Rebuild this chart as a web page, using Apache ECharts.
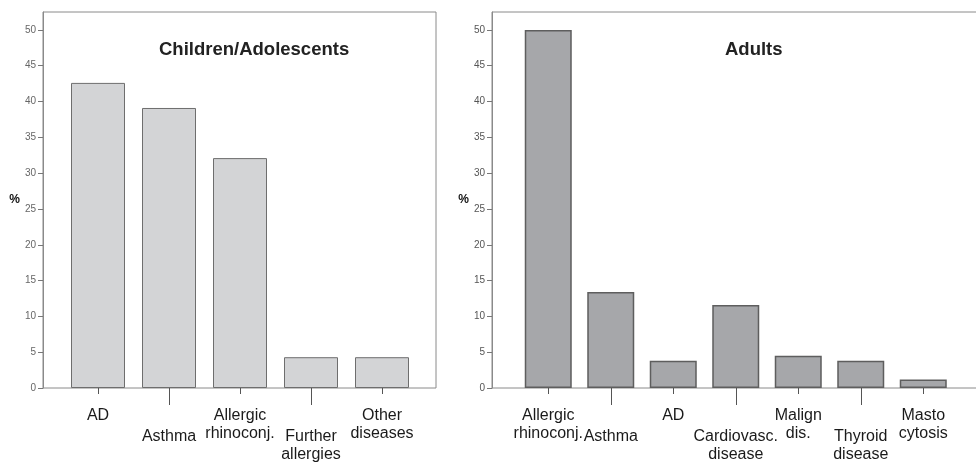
<!DOCTYPE html>
<html>
<head>
<meta charset="utf-8">
<script src="https://cdn.jsdelivr.net/npm/echarts@6/dist/echarts.min.js"></script>
<style>
  html, body { margin: 0; padding: 0; background: #fff; }
  #main { width: 976px; height: 462px; }
</style>
</head>
<body>
<div id="main"></div>
<script>
// data
const childCats = ['AD', 'Asthma', 'Allergic\nrhinoconj.', 'Further\nallergies', 'Other\ndiseases'];
const childVals = [42.6, 39.1, 32.1, 4.3, 4.3];
const adultCats = ['Allergic\nrhinoconj.', 'Asthma', 'AD', 'Cardiovasc.\ndisease', 'Malign\ndis.', 'Thyroid\ndisease', 'Masto\ncytosis'];
const adultVals = [50.0, 13.4, 3.8, 11.6, 4.5, 3.8, 1.2];
const yTicks = [0, 5, 10, 15, 20, 25, 30, 35, 40, 45, 50];

const font = '"Liberation Sans", Arial, sans-serif';
const frameColor = '#8a8a8a';

// category axis: even = short tick + upper label, odd = long tick + lower label
function catAxis(grid, cats, even) {
  const pick = (i) => (i % 2 === 0) === even;
  return {
    type: 'category',
    gridIndex: grid,
    position: 'bottom',
    data: cats,
    axisLine: { show: false },
    axisTick: {
      show: true,
      alignWithLabel: true,
      interval: pick,
      length: even ? 6 : 17,
      lineStyle: { color: '#555', width: 1 }
    },
    axisLabel: {
      interval: pick,
      margin: even ? 19 : 40,
      color: '#1a1a1a',
      fontFamily: font,
      fontSize: 16,
      lineHeight: 18,
      verticalAlign: 'top'
    }
  };
}

function valAxis(grid, offset, labelColor) {
  return {
    type: 'value',
    gridIndex: grid,
    min: 0,
    max: 52.5,
    offset: offset,
    name: '%',
    nameLocation: 'middle',
    nameRotate: 0,
    nameGap: 20,
    nameTextStyle: { fontFamily: font, fontSize: 12, fontWeight: 'bold', color: '#111' },
    splitLine: { show: false },
    axisLine: { show: true, lineStyle: { color: frameColor } },
    axisTick: { show: true, length: 5, customValues: yTicks, lineStyle: { color: '#777' } },
    axisLabel: { customValues: yTicks, margin: 7, fontFamily: font, fontSize: 10, color: labelColor }
  };
}

const chart = echarts.init(document.getElementById('main'));

const titleStyle = { fontFamily: font, fontSize: 18.5, fontWeight: 'bold', color: '#222' };

const option = {
  animation: false,
  title: [
    { text: 'Children/Adolescents', left: 159, top: 40, padding: 0, textStyle: titleStyle },
    { text: 'Adults', left: 725, top: 40, padding: 0, textStyle: titleStyle }
  ],
  grid: [
    { left: 43, top: 12, width: 393, height: 376, outerBoundsMode: 'none', show: true, borderColor: frameColor, borderWidth: 1 },
    { left: 62.5, top: 12, width: 355, height: 376, outerBoundsMode: 'none' },
    { left: 492, top: 12, width: 540, height: 376, outerBoundsMode: 'none', show: true, borderColor: frameColor, borderWidth: 1 },
    { left: 517, top: 12, width: 437.5, height: 376, outerBoundsMode: 'none' }
  ],
  xAxis: [
    { type: 'value', gridIndex: 0, show: false },
    catAxis(1, childCats, true),
    catAxis(1, childCats, false),
    { type: 'value', gridIndex: 2, show: false },
    catAxis(3, adultCats, true),
    catAxis(3, adultCats, false)
  ],
  yAxis: [
    { type: 'value', gridIndex: 0, show: false },
    valAxis(1, 19.5, '#666'),
    { type: 'value', gridIndex: 2, show: false },
    valAxis(3, 25, '#555')
  ],
  series: [
    {
      name: 'Children/Adolescents',
      type: 'bar',
      xAxisIndex: 1,
      yAxisIndex: 1,
      barWidth: 54,
      data: childVals,
      itemStyle: { color: '#d3d4d6', borderColor: '#6e6e6e', borderWidth: 1 }
    },
    {
      name: 'Adults',
      type: 'bar',
      xAxisIndex: 4,
      yAxisIndex: 3,
      barWidth: 47,
      data: adultVals,
      itemStyle: { color: '#a6a7aa', borderColor: '#5e5e5e', borderWidth: 1.5 }
    }
  ]
};

chart.setOption(option);
</script>
</body>
</html>
